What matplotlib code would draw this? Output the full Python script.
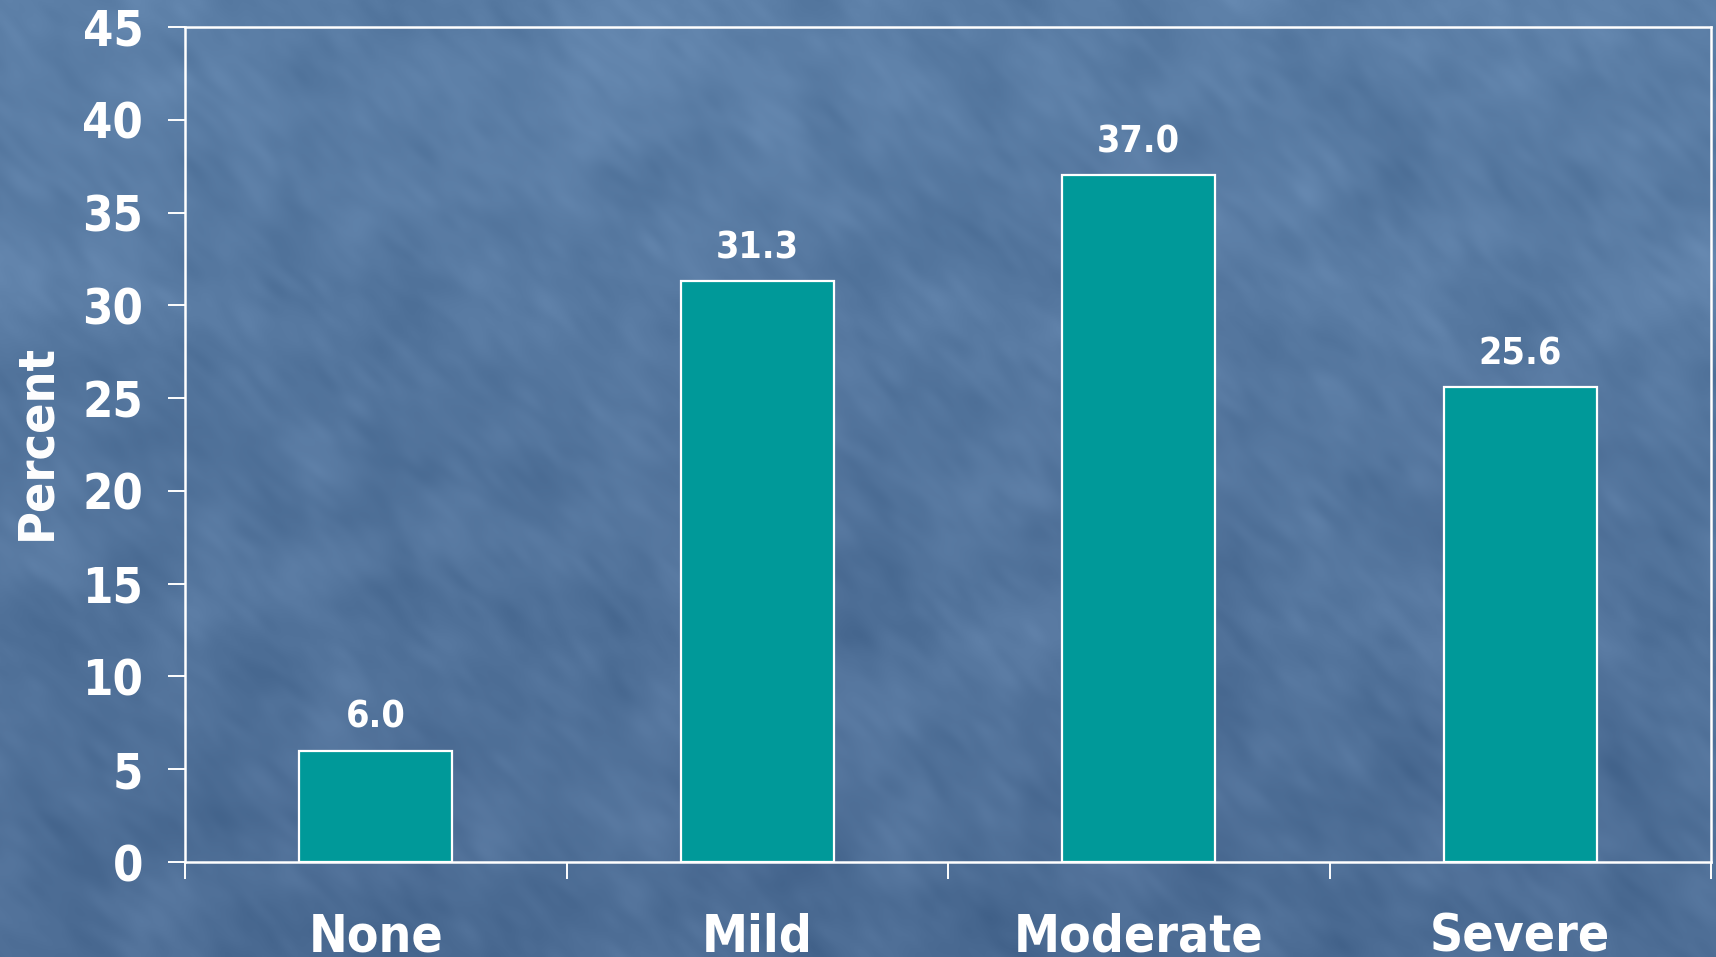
import numpy as np
import matplotlib
matplotlib.use("Agg")
import matplotlib.pyplot as plt

categories = ["None", "Mild", "Moderate", "Severe"]
percent = [6.0, 31.3, 37.0, 25.6]
yticks = [0, 5, 10, 15, 20, 25, 30, 35, 40, 45]

W, H, DPI = 1716, 957, 100
fig = plt.figure(figsize=(W / DPI, H / DPI), dpi=DPI)

# Textured slate-blue backdrop: vertical shading plus soft mottling
yy, xx = np.mgrid[0:H, 0:W]
top = np.array([92, 127, 167]) / 255.0
bot = np.array([77, 109, 149]) / 255.0
t = (yy / (H - 1))[..., None]
base = top * (1 - t) + bot * t
rng = np.random.default_rng(7)
noise = rng.standard_normal((H, W))
fy = np.fft.fftfreq(H)[:, None]
fx = np.fft.fftfreq(W)[None, :]
u = (fx + fy) / np.sqrt(2)
v = (fx - fy) / np.sqrt(2)
F = np.fft.fft2(noise)
streak = np.real(np.fft.ifft2(F * np.exp(-((u / 0.02) ** 2 + (v / 0.05) ** 2))))
blotch = np.real(np.fft.ifft2(F * np.exp(-((fx / 0.008) ** 2 + (fy / 0.008) ** 2))))
tex = 0.6 * streak / streak.std() + 0.8 * blotch / blotch.std()
img = np.clip(base + 0.012 * tex[..., None], 0, 1)

bg = fig.add_axes([0, 0, 1, 1], zorder=-1)
bg.imshow(img, aspect="auto", interpolation="bilinear")
bg.axis("off")

left, right, top_px, bottom_px = 185, 1711, 27, 862
ax = fig.add_axes([left / W, 1 - bottom_px / H, (right - left) / W, (bottom_px - top_px) / H])
ax.set_facecolor("none")

x = np.arange(len(categories))
bars = ax.bar(x, percent, width=0.4, color="#009999", edgecolor="white", linewidth=1.6, zorder=3)

ax.set_xlim(-0.5, len(categories) - 0.5)
ax.set_ylim(0, 45)

for spine in ax.spines.values():
    spine.set_color("white")
    spine.set_linewidth(1.8)

font = dict(family="DejaVu Sans", weight="bold", stretch="condensed", color="white")

ax.set_yticks(yticks)
ax.set_yticklabels([str(v) for v in yticks], fontsize=35, **font)
ax.tick_params(axis="y", direction="out", length=12, width=1.4, color="white", pad=18)

# Category boundaries carry the tick marks; category names sit at the centres
ax.set_xticks(np.arange(-0.5, len(categories), 1.0))
ax.set_xticklabels([])
ax.tick_params(axis="x", which="major", direction="out", length=12, width=1.4, color="white")
ax.set_xticks(x, minor=True)
ax.set_xticklabels(categories, minor=True, fontsize=37, **font)
ax.tick_params(axis="x", which="minor", length=0, pad=36)

for rect, val in zip(bars, percent):
    ax.annotate(f"{val:.1f}", xy=(rect.get_x() + rect.get_width() / 2, val),
                xytext=(0, 16.5), textcoords="offset points",
                ha="center", va="baseline", fontsize=27, **font)

fig.text(50 / W, 1 - 442 / H, "Percent", rotation=90, rotation_mode="anchor",
         ha="center", va="baseline", fontsize=36, **font)

fig.savefig("out.png", dpi=DPI)
